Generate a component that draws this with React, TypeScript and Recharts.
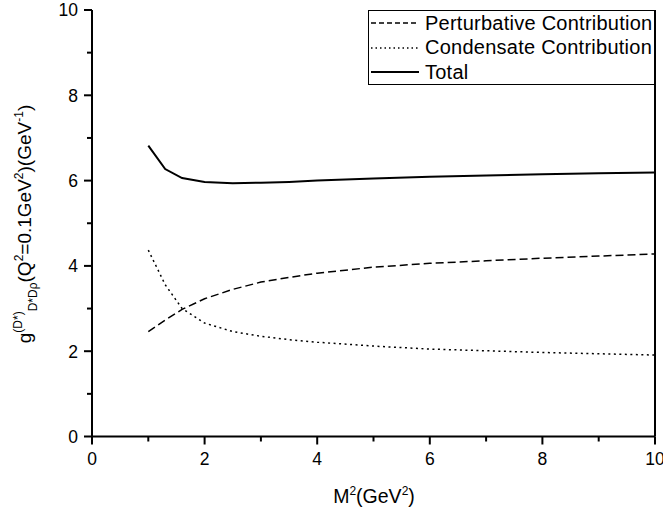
import React from "react";
import { LineChart, Line, XAxis, YAxis } from "recharts";

const mSquared = [1, 1.3, 1.6, 2, 2.5, 3, 3.5, 4, 5, 6, 7, 8, 9, 10];
const perturbative = [2.46, 2.73, 2.98, 3.23, 3.45, 3.62, 3.73, 3.83, 3.97, 4.06, 4.12, 4.18, 4.23, 4.28];
const condensate = [4.37, 3.56, 3.0, 2.66, 2.46, 2.35, 2.27, 2.21, 2.12, 2.05, 2.01, 1.97, 1.94, 1.91];
const total = [6.82, 6.27, 6.06, 5.97, 5.94, 5.95, 5.97, 6.0, 6.05, 6.09, 6.12, 6.15, 6.17, 6.19];
const axisTicks = [0, 1, 2, 3, 4, 5, 6, 7, 8, 9, 10];
const tickLabels = ["0", "", "2", "", "4", "", "6", "", "8", "", "10"];

const seriesNames = ["Perturbative Contribution", "Condensate Contribution", "Total"];

const rows = mSquared.map((m, i) => ({
  m,
  pert: perturbative[i],
  cond: condensate[i],
  total: total[i],
}));

const FONT = "'Liberation Sans', Arial, Helvetica, sans-serif";

const labelFor = (v: number) => {
  const idx = axisTicks.indexOf(v);
  return idx >= 0 ? tickLabels[idx] : "";
};

const BottomTick = (props: any) => {
  const { x, y, payload } = props;
  const label = labelFor(payload.value);
  const major = label !== "";
  const len = major ? 8 : 5;
  return (
    <g>
      <line x1={x} y1={y} x2={x} y2={y + len} stroke="#000" strokeWidth={2} />
      {major && (
        <text x={x} y={y + 28} textAnchor="middle" fontFamily={FONT} fontSize={17.5} fill="#000">
          {label}
        </text>
      )}
    </g>
  );
};

const LeftTick = (props: any) => {
  const { x, y, payload } = props;
  const label = labelFor(payload.value);
  const major = label !== "";
  const len = major ? 8 : 5;
  return (
    <g>
      <line x1={x} y1={y} x2={x - len} y2={y} stroke="#000" strokeWidth={2} />
      {major && (
        <text x={x - 14} y={y} dy="0.36em" textAnchor="end" fontFamily={FONT} fontSize={17.5} fill="#000">
          {label}
        </text>
      )}
    </g>
  );
};

const RightTick = (props: any) => {
  const { x, y, payload } = props;
  const major = labelFor(payload.value) !== "";
  const len = major ? 6 : 4;
  return <line x1={x} y1={y} x2={x + len} y2={y} stroke="#000" strokeWidth={1.5} />;
};

const LegendBox = () => {
  const items = [
    { name: seriesNames[0], dash: "5 3", width: 1.5 },
    { name: seriesNames[1], dash: "1.5 3", width: 1.5 },
    { name: seriesNames[2], dash: undefined, width: 2 },
  ];
  return (
    <div
      style={{
        position: "absolute",
        left: 368,
        top: 10,
        width: 287,
        height: 75,
        border: "1px solid #000",
        background: "#fff",
        boxSizing: "border-box",
        fontFamily: FONT,
        fontSize: 20,
        letterSpacing: 0.25,
        color: "#000",
        paddingTop: 0,
        whiteSpace: "nowrap",
        overflow: "visible",
      }}
    >
      {items.map((it) => (
        <div key={it.name} style={{ display: "flex", alignItems: "center", height: 24.5 }}>
          <svg width={54} height={10} style={{ flex: "none" }}>
            <line x1={2} y1={5} x2={50} y2={5} stroke="#000" strokeWidth={it.width} strokeDasharray={it.dash} />
          </svg>
          <span style={{ marginLeft: 2 }}>{it.name}</span>
        </div>
      ))}
    </div>
  );
};

const YLabel = () => (
  <text
    transform="translate(31, 224) rotate(-90)"
    textAnchor="middle"
    fontFamily={FONT}
    fontSize={19}
    fill="#000"
  >
    <tspan>g</tspan>
    <tspan fontSize={12} dy={-9}>(D*)</tspan>
    <tspan fontSize={12} dy={15}>D*D</tspan>
    <tspan fontSize={12}>ρ</tspan>
    <tspan dy={-6}>(Q</tspan>
    <tspan fontSize={12} dy={-8}>2</tspan>
    <tspan dy={8}>=0.1GeV</tspan>
    <tspan fontSize={12} dy={-8}>2</tspan>
    <tspan dy={8}>)(GeV</tspan>
    <tspan fontSize={12} dy={-8}>-1</tspan>
    <tspan dy={8}>)</tspan>
  </text>
);

const XLabel = () => (
  <text x={374} y={503} textAnchor="middle" fontFamily={FONT} fontSize={19.5} fill="#000">
    <tspan>M</tspan>
    <tspan fontSize={12} dy={-8}>2</tspan>
    <tspan dy={8}>(GeV</tspan>
    <tspan fontSize={12} dy={-8}>2</tspan>
    <tspan dy={8}>)</tspan>
  </text>
);

export default function App() {
  return (
    <div style={{ position: "absolute", left: 0, top: 0, width: 663, height: 511, background: "#fff" }}>
      <LineChart width={663} height={511} data={rows} margin={{ top: 10, right: 0, bottom: 0, left: 0 }}>
        <XAxis
          dataKey="m"
          type="number"
          domain={[0, 10]}
          ticks={axisTicks}
          interval={0}
          allowDataOverflow
          height={74.5}
          axisLine={{ stroke: "#000", strokeWidth: 2 }}
          tickLine={false}
          tickSize={0}
          tickMargin={0}
          tick={<BottomTick />}
        />
        <XAxis
          xAxisId="top"
          dataKey="m"
          type="number"
          orientation="top"
          domain={[0, 10]}
          height={0}
          axisLine={{ stroke: "#000", strokeWidth: 2 }}
          tick={false}
          tickLine={false}
        />
        <YAxis
          type="number"
          domain={[0, 10]}
          ticks={axisTicks}
          interval={0}
          allowDataOverflow
          width={92}
          axisLine={{ stroke: "#000", strokeWidth: 2 }}
          tickLine={false}
          tickSize={0}
          tickMargin={0}
          tick={<LeftTick />}
        />
        <YAxis
          yAxisId="right"
          orientation="right"
          type="number"
          domain={[0, 10]}
          ticks={axisTicks}
          interval={0}
          width={8}
          axisLine={{ stroke: "#000", strokeWidth: 2 }}
          tickLine={false}
          tickSize={0}
          tickMargin={0}
          tick={<RightTick />}
        />
        <Line
          type="linear"
          dataKey="pert"
          name={seriesNames[0]}
          stroke="#000"
          strokeWidth={1.5}
          strokeDasharray="8 4"
          dot={false}
          activeDot={false}
          isAnimationActive={false}
        />
        <Line
          type="linear"
          dataKey="cond"
          name={seriesNames[1]}
          stroke="#000"
          strokeWidth={1.5}
          strokeDasharray="2 3.5"
          dot={false}
          activeDot={false}
          isAnimationActive={false}
        />
        <Line
          type="linear"
          dataKey="total"
          name={seriesNames[2]}
          stroke="#000"
          strokeWidth={2}
          dot={false}
          activeDot={false}
          isAnimationActive={false}
        />
        <YLabel />
        <XLabel />
      </LineChart>
      <LegendBox />
    </div>
  );
}
